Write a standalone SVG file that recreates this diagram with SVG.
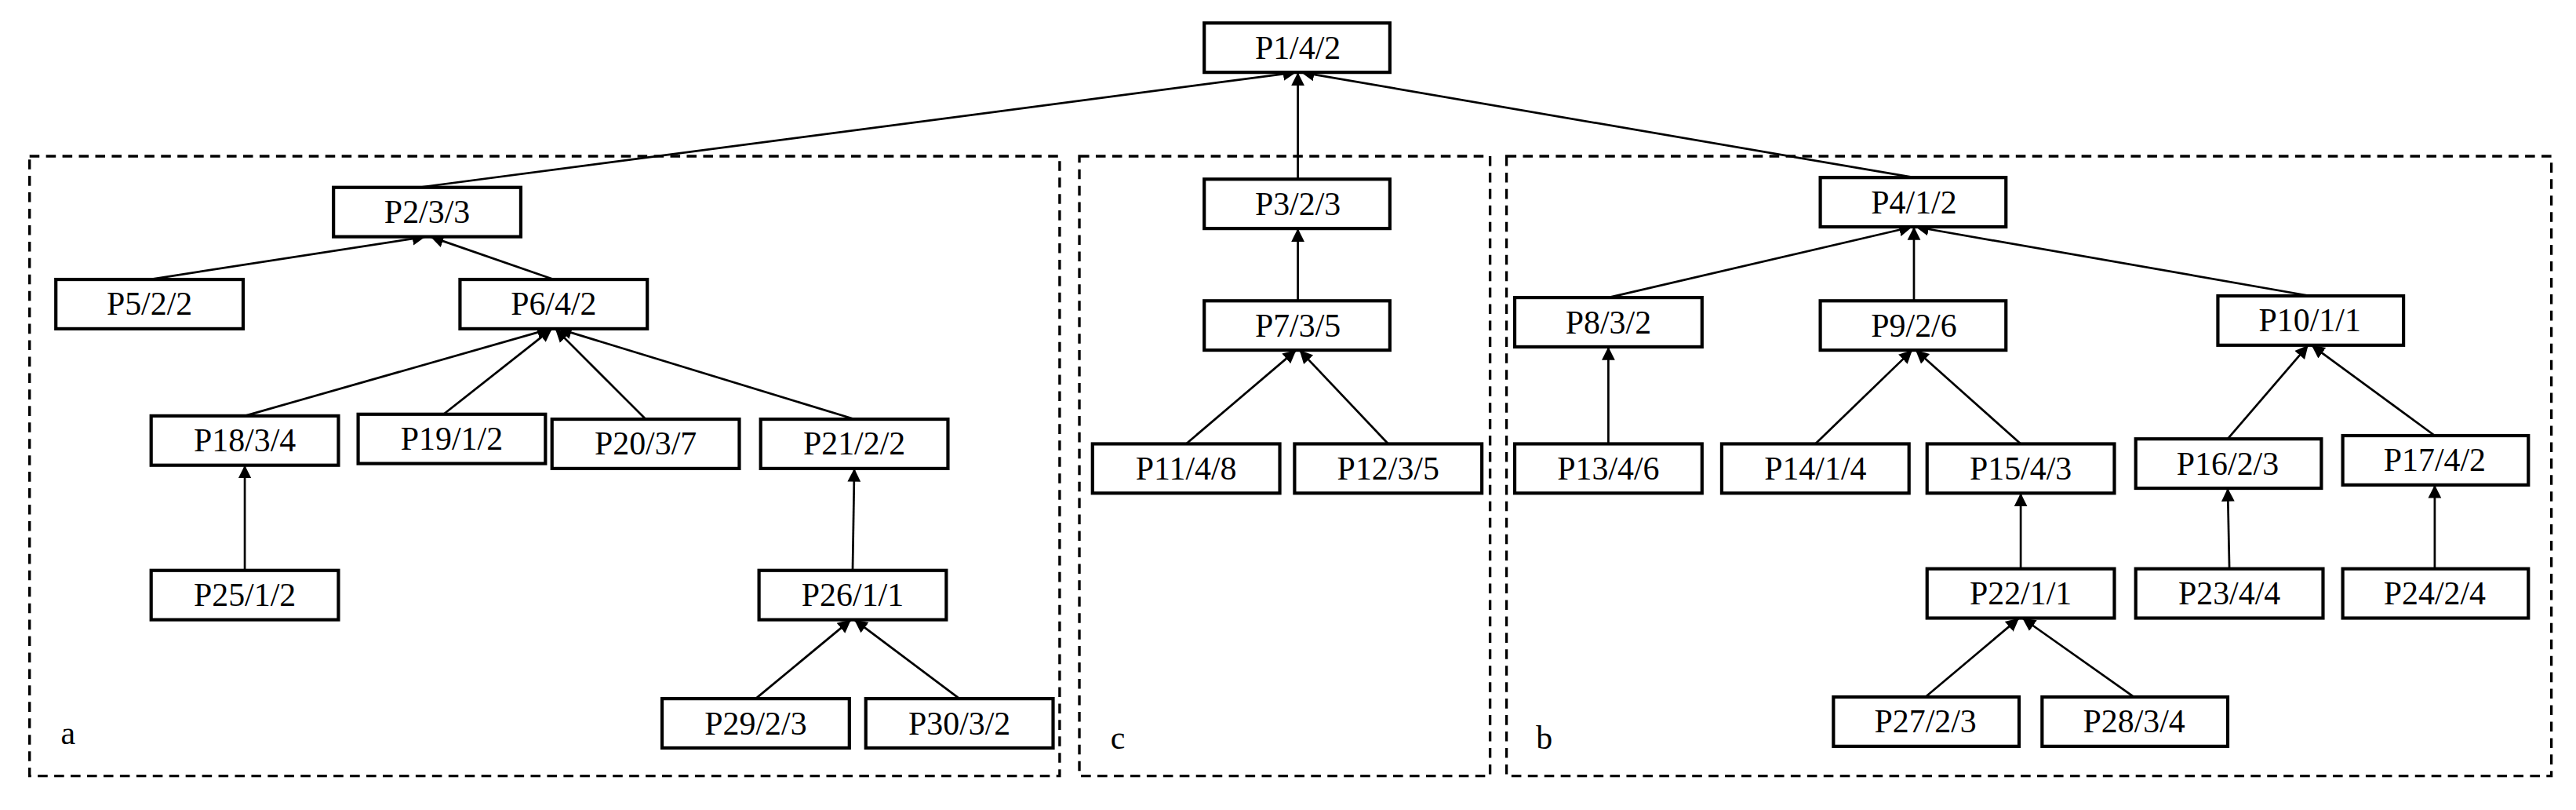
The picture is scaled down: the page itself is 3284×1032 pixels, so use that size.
<svg xmlns="http://www.w3.org/2000/svg" width="3284" height="1032" viewBox="0 0 3284 1032">
<defs>
<style>
.n rect{fill:#fff;stroke:#000;stroke-width:2}
.n text,.lb{font-family:"Liberation Serif",serif;font-size:20px;text-anchor:middle;dominant-baseline:central;fill:#000}
.lb{text-anchor:start}
.d{fill:none;stroke:#000;stroke-width:1.6;stroke-dasharray:6,4}
#edges line{stroke:#000;stroke-width:1.3;marker-end:url(#ah)}
</style>
<marker id="ah" markerUnits="userSpaceOnUse" markerWidth="8" markerHeight="10" refX="8" refY="4" orient="auto" viewBox="0 0 8 8"><path d="M0,0L8,4L0,8z" fill="#000"/></marker>
</defs>
<rect width="3284" height="1032" fill="#fff"/>
<g transform="scale(2.0944)">
<g id="groups">
<rect class="d" x="18" y="95" width="627" height="377"/>
<rect class="d" x="657" y="95" width="250" height="377"/>
<rect class="d" x="917" y="95" width="636" height="377"/>
<text class="lb" x="37" y="446">a</text>
<text class="lb" x="676" y="449">c</text>
<text class="lb" x="935" y="449">b</text>
</g>
<g id="edges">
<line x1="255" y1="114" x2="789" y2="44"/>
<line x1="790" y1="109" x2="790" y2="44"/>
<line x1="1165" y1="108" x2="792" y2="44"/>
<line x1="91" y1="170" x2="259" y2="144"/>
<line x1="337" y1="170" x2="262" y2="144"/>
<line x1="149" y1="253" x2="335" y2="200"/>
<line x1="270" y1="252" x2="336" y2="200"/>
<line x1="393" y1="255" x2="338" y2="200"/>
<line x1="520" y1="255" x2="340" y2="200"/>
<line x1="149" y1="347" x2="149" y2="283"/>
<line x1="519" y1="347" x2="520" y2="285"/>
<line x1="460" y1="425" x2="518" y2="377"/>
<line x1="584" y1="425" x2="520" y2="377"/>
<line x1="790" y1="183" x2="790" y2="139"/>
<line x1="722" y1="270" x2="789" y2="213"/>
<line x1="845" y1="270" x2="791" y2="213"/>
<line x1="979" y1="181" x2="1164" y2="138"/>
<line x1="1165" y1="183" x2="1165" y2="138"/>
<line x1="1406" y1="180" x2="1166" y2="138"/>
<line x1="979" y1="270" x2="979" y2="211"/>
<line x1="1105" y1="270" x2="1164" y2="213"/>
<line x1="1230" y1="270" x2="1166" y2="213"/>
<line x1="1356" y1="267" x2="1405" y2="210"/>
<line x1="1482" y1="265" x2="1407" y2="210"/>
<line x1="1230" y1="346" x2="1230" y2="300"/>
<line x1="1357" y1="346" x2="1356" y2="297"/>
<line x1="1482" y1="346" x2="1482" y2="295"/>
<line x1="1172" y1="424" x2="1229" y2="376"/>
<line x1="1299" y1="424" x2="1231" y2="376"/>
</g>
<g id="P1" class="n"><rect x="733" y="14" width="113" height="30"/><text x="790" y="29">P1/4/2</text></g>
<g id="P2" class="n"><rect x="203" y="114" width="114" height="30"/><text x="260" y="129">P2/3/3</text></g>
<g id="P5" class="n"><rect x="34" y="170" width="114" height="30"/><text x="91" y="185">P5/2/2</text></g>
<g id="P6" class="n"><rect x="280" y="170" width="114" height="30"/><text x="337" y="185">P6/4/2</text></g>
<g id="P18" class="n"><rect x="92" y="253" width="114" height="30"/><text x="149" y="268">P18/3/4</text></g>
<g id="P19" class="n"><rect x="218" y="252" width="114" height="30"/><text x="275" y="267">P19/1/2</text></g>
<g id="P20" class="n"><rect x="336" y="255" width="114" height="30"/><text x="393" y="270">P20/3/7</text></g>
<g id="P21" class="n"><rect x="463" y="255" width="114" height="30"/><text x="520" y="270">P21/2/2</text></g>
<g id="P25" class="n"><rect x="92" y="347" width="114" height="30"/><text x="149" y="362">P25/1/2</text></g>
<g id="P26" class="n"><rect x="462" y="347" width="114" height="30"/><text x="519" y="362">P26/1/1</text></g>
<g id="P29" class="n"><rect x="403" y="425" width="114" height="30"/><text x="460" y="440">P29/2/3</text></g>
<g id="P30" class="n"><rect x="527" y="425" width="114" height="30"/><text x="584" y="440">P30/3/2</text></g>
<g id="P3" class="n"><rect x="733" y="109" width="113" height="30"/><text x="790" y="124">P3/2/3</text></g>
<g id="P7" class="n"><rect x="733" y="183" width="113" height="30"/><text x="790" y="198">P7/3/5</text></g>
<g id="P11" class="n"><rect x="665" y="270" width="114" height="30"/><text x="722" y="285">P11/4/8</text></g>
<g id="P12" class="n"><rect x="788" y="270" width="114" height="30"/><text x="845" y="285">P12/3/5</text></g>
<g id="P4" class="n"><rect x="1108" y="108" width="113" height="30"/><text x="1165" y="123">P4/1/2</text></g>
<g id="P8" class="n"><rect x="922" y="181" width="114" height="30"/><text x="979" y="196">P8/3/2</text></g>
<g id="P9" class="n"><rect x="1108" y="183" width="113" height="30"/><text x="1165" y="198">P9/2/6</text></g>
<g id="P10" class="n"><rect x="1350" y="180" width="113" height="30"/><text x="1406" y="195">P10/1/1</text></g>
<g id="P13" class="n"><rect x="922" y="270" width="114" height="30"/><text x="979" y="285">P13/4/6</text></g>
<g id="P14" class="n"><rect x="1048" y="270" width="114" height="30"/><text x="1105" y="285">P14/1/4</text></g>
<g id="P15" class="n"><rect x="1173" y="270" width="114" height="30"/><text x="1230" y="285">P15/4/3</text></g>
<g id="P16" class="n"><rect x="1300" y="267" width="113" height="30"/><text x="1356" y="282">P16/2/3</text></g>
<g id="P17" class="n"><rect x="1426" y="265" width="113" height="30"/><text x="1482" y="280">P17/4/2</text></g>
<g id="P22" class="n"><rect x="1173" y="346" width="114" height="30"/><text x="1230" y="361">P22/1/1</text></g>
<g id="P23" class="n"><rect x="1300" y="346" width="114" height="30"/><text x="1357" y="361">P23/4/4</text></g>
<g id="P24" class="n"><rect x="1426" y="346" width="113" height="30"/><text x="1482" y="361">P24/2/4</text></g>
<g id="P27" class="n"><rect x="1116" y="424" width="113" height="30"/><text x="1172" y="439">P27/2/3</text></g>
<g id="P28" class="n"><rect x="1243" y="424" width="113" height="30"/><text x="1299" y="439">P28/3/4</text></g>
</g>
</svg>
